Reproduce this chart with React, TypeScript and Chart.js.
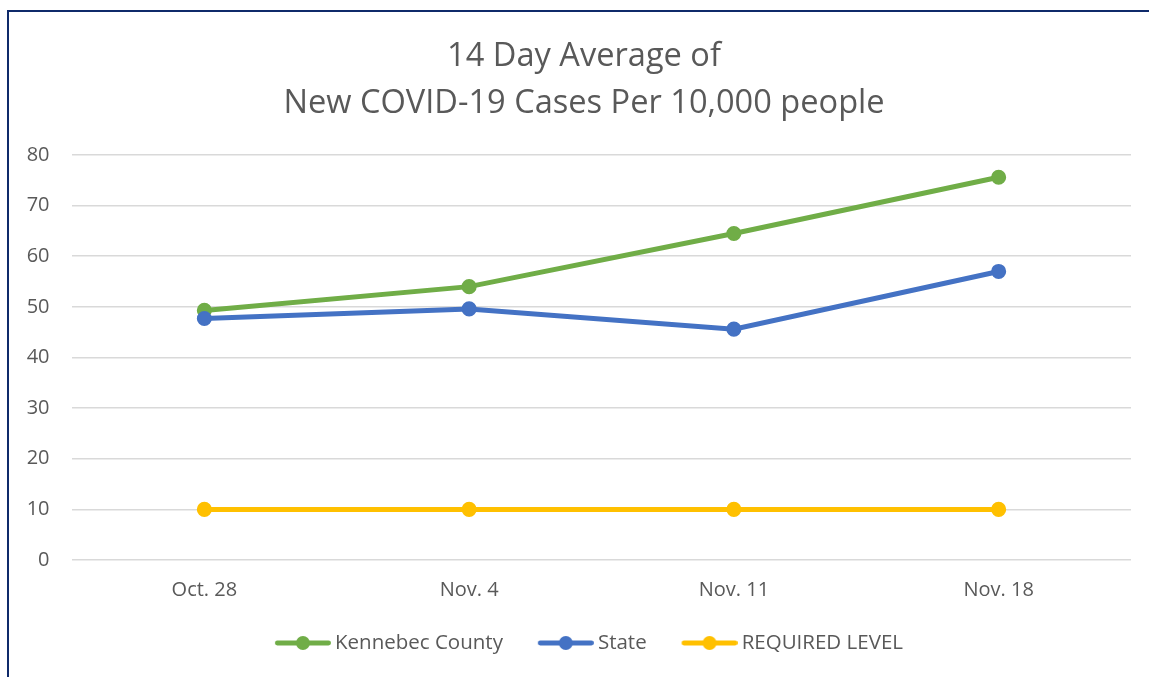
import React, { useEffect, useRef } from "react";
import { Chart, registerables } from "chart.js";

Chart.register(...registerables);

const categories: string[] = ["Oct. 28", "Nov. 4", "Nov. 11", "Nov. 18"];
const kennebecCounty: number[] = [49.3, 54.0, 64.5, 75.6];
const stateValues: number[] = [47.7, 49.6, 45.6, 57.0];
const requiredLevel: number[] = [10, 10, 10, 10];
const titleLines: string[] = ["14 Day Average of", "New COVID-19 Cases Per 10,000 people"];
const yMin = 0;
const yMax = 80;
const yStep = 10;

const GREEN = "#70AD47";
const BLUE = "#4472C4";
const YELLOW = "#FFC000";
const TEXT = "#595959";
const GRID = "#D9D9D9";
const FRAME = "#0F2A6A";
const FONT = "'Open Sans', sans-serif";

function legendSymbol(color: string): HTMLCanvasElement {
  const c = document.createElement("canvas");
  c.width = 72;
  c.height = 16;
  const ctx = c.getContext("2d")!;
  ctx.strokeStyle = color;
  ctx.fillStyle = color;
  ctx.lineWidth = 4.8;
  ctx.lineCap = "round";
  ctx.beginPath();
  ctx.moveTo(18.4, 8);
  ctx.lineTo(69.6, 8);
  ctx.stroke();
  ctx.beginPath();
  ctx.arc(44, 8, 6.9, 0, Math.PI * 2);
  ctx.fill();
  return c;
}

export default function App() {
  const ref = useRef<HTMLCanvasElement | null>(null);

  useEffect(() => {
    const canvas = ref.current;
    if (!canvas) return;
    const symbols = [legendSymbol(GREEN), legendSymbol(BLUE), legendSymbol(YELLOW)];
    const mk = (label: string, data: number[], color: string, order: number) => ({
      label,
      data,
      borderColor: color,
      backgroundColor: color,
      borderWidth: 5,
      pointRadius: 6.8,
      pointBorderWidth: 1.5,
      pointBackgroundColor: color,
      pointBorderColor: color,
      tension: 0,
      order,
      yAxisID: "y",
    });
    const chart = new Chart(canvas, {
      type: "line",
      data: {
        labels: categories,
        datasets: [
          mk("Kennebec County", kennebecCounty, GREEN, 3),
          mk("State", stateValues, BLUE, 2),
          mk("REQUIRED LEVEL", requiredLevel, YELLOW, 1),
        ],
      },
      options: {
        animation: false,
        responsive: false,
        layout: { padding: { left: 25, right: 6, top: 0, bottom: 13.75 } },
        scales: {
          x: {
            offset: true,
            grid: { display: false, drawTicks: false },
            border: { display: false },
            ticks: { color: TEXT, font: { family: FONT, size: 20 }, padding: 18.5 },
            afterFit: (s: any) => {
              s.height = 47.75;
            },
          },
          y: {
            position: "left",
            min: yMin,
            max: yMax,
            grid: { color: GRID, lineWidth: 1.6, drawTicks: false },
            border: { display: false },
            ticks: { stepSize: yStep, color: TEXT, font: { family: FONT, size: 20 }, padding: 22.5 },
            afterFit: (s: any) => {
              s.width = 47;
            },
          },
          yRightSpace: {
            type: "linear",
            position: "right",
            grid: { display: false, drawTicks: false },
            border: { display: false },
            ticks: { display: false },
            afterFit: (s: any) => {
              s.width = 12;
            },
          },
        },
        plugins: {
          title: {
            display: true,
            text: titleLines,
            color: TEXT,
            font: { family: FONT, size: 32.6, weight: "normal", lineHeight: "47px" },
            padding: { top: 33, bottom: 28 },
          },
          legend: {
            position: "bottom",
            labels: {
              color: TEXT,
              font: { family: FONT, size: 20.5 },
              usePointStyle: true,
              pointStyleWidth: 59.75,
              padding: 25,
              generateLabels: (ch: any) => {
                const items = Chart.defaults.plugins.legend.labels.generateLabels(ch);
                items.sort((a: any, b: any) => a.datasetIndex - b.datasetIndex);
                return items.map((it: any) => ({ ...it, pointStyle: symbols[it.datasetIndex] }));
              },
            },
          },
          tooltip: { enabled: false },
        },
      } as any,
    });
    return () => chart.destroy();
  }, []);

  return (
    <div style={{ position: "fixed", left: 0, top: 0, width: 1149, height: 677, overflow: "hidden" }}>
      <div style={{ position: "absolute", left: 7, top: 10, width: 1142, height: 2, background: FRAME }} />
      <div style={{ position: "absolute", left: 7, top: 10, width: 2, height: 667, background: FRAME }} />
      <canvas
        ref={ref}
        width={1149}
        height={677}
        style={{ position: "absolute", left: 0, top: 0, width: 1149, height: 677 }}
      />
    </div>
  );
}
